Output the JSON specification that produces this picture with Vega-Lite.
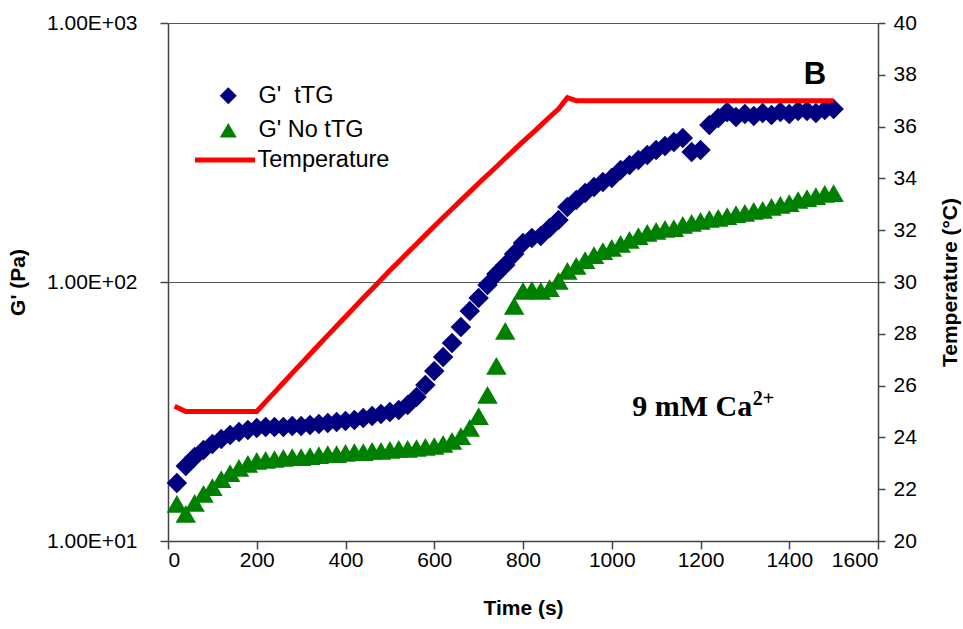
{
  "$schema": "https://vega.github.io/schema/vega-lite/v6.json",
  "width": 710,
  "height": 518,
  "autosize": "none",
  "padding": {"left": 168, "top": 23, "right": 85, "bottom": 88},
  "background": "white",
  "config": {
    "view": {"stroke": null},
    "font": "Liberation Sans",
    "axis": {
      "labelFont": "Liberation Sans",
      "labelFontSize": 21,
      "labelColor": "#000000",
      "titleFont": "Liberation Sans",
      "titleFontSize": 21,
      "titleFontWeight": "bold",
      "titleColor": "#000000",
      "domainColor": "#444444",
      "domainWidth": 1.5,
      "tickColor": "#444444",
      "tickWidth": 1.5,
      "tickSize": 8
    },
    "legend": {
      "labelFont": "Liberation Sans",
      "labelFontSize": 23.5,
      "labelColor": "#000000",
      "padding": 0
    }
  },
  "datasets": {
    "g": [
      {"t":20,"s":"G' \u00a0tTG","G":16.75},{"t":40,"s":"G' \u00a0tTG","G":19.48},{"t":60,"s":"G' \u00a0tTG","G":21.1},{"t":80,"s":"G' \u00a0tTG","G":22.46},{"t":100,"s":"G' \u00a0tTG","G":23.69},{"t":120,"s":"G' \u00a0tTG","G":24.76},{"t":140,"s":"G' \u00a0tTG","G":25.66},{"t":160,"s":"G' \u00a0tTG","G":26.35},{"t":180,"s":"G' \u00a0tTG","G":26.83},{"t":200,"s":"G' \u00a0tTG","G":27.31},
      {"t":220,"s":"G' \u00a0tTG","G":27.56},{"t":240,"s":"G' \u00a0tTG","G":27.56},{"t":260,"s":"G' \u00a0tTG","G":27.56},{"t":280,"s":"G' \u00a0tTG","G":27.8},{"t":300,"s":"G' \u00a0tTG","G":27.8},{"t":320,"s":"G' \u00a0tTG","G":28.05},{"t":340,"s":"G' \u00a0tTG","G":28.3},{"t":360,"s":"G' \u00a0tTG","G":28.55},{"t":380,"s":"G' \u00a0tTG","G":28.81},{"t":400,"s":"G' \u00a0tTG","G":29.06},
      {"t":420,"s":"G' \u00a0tTG","G":29.32},{"t":440,"s":"G' \u00a0tTG","G":29.85},{"t":460,"s":"G' \u00a0tTG","G":30.38},{"t":480,"s":"G' \u00a0tTG","G":30.93},{"t":500,"s":"G' \u00a0tTG","G":31.48},{"t":520,"s":"G' \u00a0tTG","G":32.05},{"t":540,"s":"G' \u00a0tTG","G":33.5},{"t":560,"s":"G' \u00a0tTG","G":35.97},{"t":580,"s":"G' \u00a0tTG","G":40.03},{"t":600,"s":"G' \u00a0tTG","G":45.35},
      {"t":620,"s":"G' \u00a0tTG","G":51.33},{"t":640,"s":"G' \u00a0tTG","G":58.15},{"t":660,"s":"G' \u00a0tTG","G":67.05},{"t":680,"s":"G' \u00a0tTG","G":77.27},{"t":700,"s":"G' \u00a0tTG","G":86.74},{"t":720,"s":"G' \u00a0tTG","G":97.36},{"t":740,"s":"G' \u00a0tTG","G":107.4},{"t":760,"s":"G' \u00a0tTG","G":116.3},{"t":780,"s":"G' \u00a0tTG","G":128.3},{"t":800,"s":"G' \u00a0tTG","G":141.5},
      {"t":820,"s":"G' \u00a0tTG","G":147.9},{"t":840,"s":"G' \u00a0tTG","G":150.5},{"t":860,"s":"G' \u00a0tTG","G":161.6},{"t":880,"s":"G' \u00a0tTG","G":173.5},{"t":900,"s":"G' \u00a0tTG","G":194.8},{"t":920,"s":"G' \u00a0tTG","G":207.3},{"t":940,"s":"G' \u00a0tTG","G":220.6},{"t":960,"s":"G' \u00a0tTG","G":232.7},{"t":980,"s":"G' \u00a0tTG","G":243.3},{"t":1000,"s":"G' \u00a0tTG","G":252.1},
      {"t":1020,"s":"G' \u00a0tTG","G":270.7},{"t":1040,"s":"G' \u00a0tTG","G":283.0},{"t":1060,"s":"G' \u00a0tTG","G":295.8},{"t":1080,"s":"G' \u00a0tTG","G":309.3},{"t":1100,"s":"G' \u00a0tTG","G":323.4},{"t":1120,"s":"G' \u00a0tTG","G":335.0},{"t":1140,"s":"G' \u00a0tTG","G":347.1},{"t":1160,"s":"G' \u00a0tTG","G":359.7},{"t":1180,"s":"G' \u00a0tTG","G":317.7},{"t":1200,"s":"G' \u00a0tTG","G":323.4},
      {"t":1220,"s":"G' \u00a0tTG","G":403.8},{"t":1240,"s":"G' \u00a0tTG","G":429.8},{"t":1260,"s":"G' \u00a0tTG","G":453.4},{"t":1280,"s":"G' \u00a0tTG","G":433.6},{"t":1300,"s":"G' \u00a0tTG","G":445.3},{"t":1320,"s":"G' \u00a0tTG","G":437.4},{"t":1340,"s":"G' \u00a0tTG","G":449.3},{"t":1360,"s":"G' \u00a0tTG","G":441.4},{"t":1380,"s":"G' \u00a0tTG","G":453.4},{"t":1400,"s":"G' \u00a0tTG","G":445.3},
      {"t":1420,"s":"G' \u00a0tTG","G":457.4},{"t":1440,"s":"G' \u00a0tTG","G":457.4},{"t":1460,"s":"G' \u00a0tTG","G":449.3},{"t":1480,"s":"G' \u00a0tTG","G":461.5},{"t":1500,"s":"G' \u00a0tTG","G":465.6},
      {"t":20,"s":"G' No tTG","G":13.9},{"t":40,"s":"G' No tTG","G":12.72},{"t":60,"s":"G' No tTG","G":14.02},{"t":80,"s":"G' No tTG","G":15.19},{"t":100,"s":"G' No tTG","G":16.16},{"t":120,"s":"G' No tTG","G":17.35},{"t":140,"s":"G' No tTG","G":18.3},{"t":160,"s":"G' No tTG","G":19.14},{"t":180,"s":"G' No tTG","G":19.83},{"t":200,"s":"G' No tTG","G":20.37},
      {"t":220,"s":"G' No tTG","G":20.55},{"t":240,"s":"G' No tTG","G":20.73},{"t":260,"s":"G' No tTG","G":20.92},{"t":280,"s":"G' No tTG","G":21.1},{"t":300,"s":"G' No tTG","G":21.1},{"t":320,"s":"G' No tTG","G":21.29},{"t":340,"s":"G' No tTG","G":21.48},{"t":360,"s":"G' No tTG","G":21.67},{"t":380,"s":"G' No tTG","G":21.67},{"t":400,"s":"G' No tTG","G":21.87},
      {"t":420,"s":"G' No tTG","G":22.06},{"t":440,"s":"G' No tTG","G":22.06},{"t":460,"s":"G' No tTG","G":22.26},{"t":480,"s":"G' No tTG","G":22.26},{"t":500,"s":"G' No tTG","G":22.46},{"t":520,"s":"G' No tTG","G":22.66},{"t":540,"s":"G' No tTG","G":22.66},{"t":560,"s":"G' No tTG","G":22.86},{"t":580,"s":"G' No tTG","G":23.07},{"t":600,"s":"G' No tTG","G":23.27},
      {"t":620,"s":"G' No tTG","G":23.69},{"t":640,"s":"G' No tTG","G":24.33},{"t":660,"s":"G' No tTG","G":25.43},{"t":680,"s":"G' No tTG","G":27.31},{"t":700,"s":"G' No tTG","G":30.38},{"t":720,"s":"G' No tTG","G":36.62},{"t":740,"s":"G' No tTG","G":47.39},{"t":760,"s":"G' No tTG","G":64.69},{"t":780,"s":"G' No tTG","G":80.79},{"t":800,"s":"G' No tTG","G":92.33},
      {"t":820,"s":"G' No tTG","G":93.15},{"t":840,"s":"G' No tTG","G":92.33},{"t":860,"s":"G' No tTG","G":94.8},{"t":880,"s":"G' No tTG","G":100.9},{"t":900,"s":"G' No tTG","G":110.3},{"t":920,"s":"G' No tTG","G":115.3},{"t":940,"s":"G' No tTG","G":121.6},{"t":960,"s":"G' No tTG","G":127.1},{"t":980,"s":"G' No tTG","G":131.7},{"t":1000,"s":"G' No tTG","G":135.3},
      {"t":1020,"s":"G' No tTG","G":140.2},{"t":1040,"s":"G' No tTG","G":145.3},{"t":1060,"s":"G' No tTG","G":150.5},{"t":1080,"s":"G' No tTG","G":154.6},{"t":1100,"s":"G' No tTG","G":157.4},{"t":1120,"s":"G' No tTG","G":160.2},{"t":1140,"s":"G' No tTG","G":161.6},{"t":1160,"s":"G' No tTG","G":166.0},{"t":1180,"s":"G' No tTG","G":169.0},{"t":1200,"s":"G' No tTG","G":172.0},
      {"t":1220,"s":"G' No tTG","G":175.1},{"t":1240,"s":"G' No tTG","G":176.7},{"t":1260,"s":"G' No tTG","G":179.8},{"t":1280,"s":"G' No tTG","G":183.0},{"t":1300,"s":"G' No tTG","G":184.7},{"t":1320,"s":"G' No tTG","G":188.0},{"t":1340,"s":"G' No tTG","G":189.7},{"t":1360,"s":"G' No tTG","G":194.8},{"t":1380,"s":"G' No tTG","G":198.3},{"t":1400,"s":"G' No tTG","G":201.8},
      {"t":1420,"s":"G' No tTG","G":207.3},{"t":1440,"s":"G' No tTG","G":211.0},{"t":1460,"s":"G' No tTG","G":214.8},{"t":1480,"s":"G' No tTG","G":218.7},{"t":1500,"s":"G' No tTG","G":220.6}
    ],
    "temp": [
      {"t":15,"s":"Temperature","T":25.2},{"t":40,"s":"Temperature","T":25.0},{"t":60,"s":"Temperature","T":25.0},{"t":80,"s":"Temperature","T":25.0},{"t":100,"s":"Temperature","T":25.0},{"t":120,"s":"Temperature","T":25.0},{"t":140,"s":"Temperature","T":25.0},{"t":160,"s":"Temperature","T":25.0},{"t":180,"s":"Temperature","T":25.0},{"t":200,"s":"Temperature","T":25.0},
      {"t":220,"s":"Temperature","T":25.37},{"t":240,"s":"Temperature","T":25.74},{"t":260,"s":"Temperature","T":26.11},{"t":280,"s":"Temperature","T":26.48},{"t":300,"s":"Temperature","T":26.84},{"t":320,"s":"Temperature","T":27.21},{"t":340,"s":"Temperature","T":27.58},{"t":360,"s":"Temperature","T":27.94},{"t":380,"s":"Temperature","T":28.3},{"t":400,"s":"Temperature","T":28.66},
      {"t":420,"s":"Temperature","T":29.02},{"t":440,"s":"Temperature","T":29.38},{"t":460,"s":"Temperature","T":29.73},{"t":480,"s":"Temperature","T":30.09},{"t":500,"s":"Temperature","T":30.44},{"t":520,"s":"Temperature","T":30.78},{"t":540,"s":"Temperature","T":31.13},{"t":560,"s":"Temperature","T":31.47},{"t":580,"s":"Temperature","T":31.81},{"t":600,"s":"Temperature","T":32.15},
      {"t":620,"s":"Temperature","T":32.49},{"t":640,"s":"Temperature","T":32.82},{"t":660,"s":"Temperature","T":33.15},{"t":680,"s":"Temperature","T":33.48},{"t":700,"s":"Temperature","T":33.81},{"t":720,"s":"Temperature","T":34.13},{"t":740,"s":"Temperature","T":34.45},{"t":760,"s":"Temperature","T":34.78},{"t":780,"s":"Temperature","T":35.1},{"t":800,"s":"Temperature","T":35.42},
      {"t":820,"s":"Temperature","T":35.73},{"t":840,"s":"Temperature","T":36.05},{"t":860,"s":"Temperature","T":36.37},{"t":880,"s":"Temperature","T":36.68},{"t":900,"s":"Temperature","T":37.12},{"t":920,"s":"Temperature","T":37.0},{"t":940,"s":"Temperature","T":37.0},{"t":960,"s":"Temperature","T":37.0},{"t":980,"s":"Temperature","T":37.0},{"t":1000,"s":"Temperature","T":37.0},
      {"t":1020,"s":"Temperature","T":37.0},{"t":1040,"s":"Temperature","T":37.0},{"t":1060,"s":"Temperature","T":37.0},{"t":1080,"s":"Temperature","T":37.0},{"t":1100,"s":"Temperature","T":37.0},{"t":1120,"s":"Temperature","T":37.0},{"t":1140,"s":"Temperature","T":37.0},{"t":1160,"s":"Temperature","T":37.0},{"t":1180,"s":"Temperature","T":37.0},{"t":1200,"s":"Temperature","T":37.0},
      {"t":1220,"s":"Temperature","T":37.0},{"t":1240,"s":"Temperature","T":37.0},{"t":1260,"s":"Temperature","T":37.0},{"t":1280,"s":"Temperature","T":37.0},{"t":1300,"s":"Temperature","T":37.0},{"t":1320,"s":"Temperature","T":37.0},{"t":1340,"s":"Temperature","T":37.0},{"t":1360,"s":"Temperature","T":37.0},{"t":1380,"s":"Temperature","T":37.0},{"t":1400,"s":"Temperature","T":37.0},
      {"t":1420,"s":"Temperature","T":37.0},{"t":1440,"s":"Temperature","T":37.0},{"t":1460,"s":"Temperature","T":37.0},{"t":1480,"s":"Temperature","T":37.0},{"t":1500,"s":"Temperature","T":37.0}
    ]
  },
  "layer": [
    {
      "layer": [
        {
          "data": {"name": "g"},
          "mark": {"type": "point", "filled": true, "size": 420, "opacity": 1, "strokeWidth": 0},
          "encoding": {
            "x": {"field": "t", "type": "quantitative", "scale": {"domain": [0, 1600], "nice": false},
              "axis": {"values": [0,200,400,600,800,1000,1200,1400,1600], "format": "d", "title": "Time (s)", "grid": false, "labelPadding": 0, "titleY": 73, "titleBaseline": "alphabetic"}},
            "y": {"field": "G", "type": "quantitative", "scale": {"type": "log", "domain": [10, 1000], "nice": false},
              "axis": {"orient": "left", "values": [10, 100, 1000], "labelExpr": "'1.00E+0' + round(log(datum.value) / LN10)", "title": "G' (Pa)", "grid": true, "gridColor": "#555555", "gridWidth": 1, "labelPadding": 23, "titleX": -150, "titleY": 259, "titleAngle": 270, "titleAlign": "center", "titleBaseline": "middle"}},
            "color": {"field": "s", "type": "nominal", "scale": {"domain": ["G' \u00a0tTG", "G' No tTG"], "range": ["#000080", "#008000"]},
              "legend": {"title": null, "orient": "none", "legendX": 48.5, "legendY": 61, "rowPadding": 9.5, "symbolSize": 289, "symbolStrokeWidth": 0, "labelOffset": 18.5, "symbolOpacity": 1}},
            "shape": {"field": "s", "type": "nominal", "scale": {"domain": ["G' \u00a0tTG", "G' No tTG"], "range": ["diamond", "triangle-up"]},
              "legend": {"title": null, "orient": "none", "legendX": 48.5, "legendY": 61, "rowPadding": 9.5, "symbolSize": 289, "symbolStrokeWidth": 0, "labelOffset": 18.5, "symbolOpacity": 1}}
          }
        },
        {
          "data": {"values": [{"t": 1458, "G": 581.5, "label": "B"}]},
          "mark": {"type": "text", "font": "Liberation Sans", "fontWeight": "bold", "fontSize": 31, "align": "center", "baseline": "alphabetic", "color": "#000000"},
          "encoding": {
            "x": {"field": "t", "type": "quantitative"},
            "y": {"field": "G", "type": "quantitative"},
            "text": {"field": "label"}
          }
        },
        {
          "data": {"values": [{"t": 1046, "G": 30.38, "label": "9 mM Ca"}]},
          "mark": {"type": "text", "font": "Liberation Serif", "fontWeight": "bold", "fontSize": 30, "align": "left", "baseline": "alphabetic", "color": "#000000"},
          "encoding": {
            "x": {"field": "t", "type": "quantitative"},
            "y": {"field": "G", "type": "quantitative"},
            "text": {"field": "label"}
          }
        },
        {
          "data": {"values": [{"t": 1318, "G": 33.6, "label": "2+"}]},
          "mark": {"type": "text", "font": "Liberation Serif", "fontWeight": "bold", "fontSize": 20, "align": "left", "baseline": "alphabetic", "color": "#000000"},
          "encoding": {
            "x": {"field": "t", "type": "quantitative"},
            "y": {"field": "G", "type": "quantitative"},
            "text": {"field": "label"}
          }
        }
      ]
    },
    {
      "data": {"name": "temp"},
      "mark": {"type": "line", "strokeWidth": 5},
      "encoding": {
        "x": {"field": "t", "type": "quantitative", "scale": {"domain": [0, 1600], "nice": false}},
        "y": {"field": "T", "type": "quantitative", "scale": {"domain": [20, 40], "nice": false, "zero": false},
          "axis": {"orient": "right", "values": [20,22,24,26,28,30,32,34,36,38,40], "title": "Temperature (°C)", "grid": false, "labelPadding": 8, "tickSize": 7, "titleX": 72, "titleY": 259, "titleAngle": 270, "titleAlign": "center", "titleBaseline": "middle"}},
        "stroke": {"field": "s", "type": "nominal", "scale": {"domain": ["Temperature"], "range": ["#ff0000"]},
          "legend": {"title": null, "orient": "none", "legendX": 24.5, "legendY": 104.5, "symbolType": "stroke", "symbolSize": 3600, "symbolStrokeWidth": 5, "labelOffset": 0}}
      }
    }
  ],
  "resolve": {"scale": {"y": "independent"}}
}
